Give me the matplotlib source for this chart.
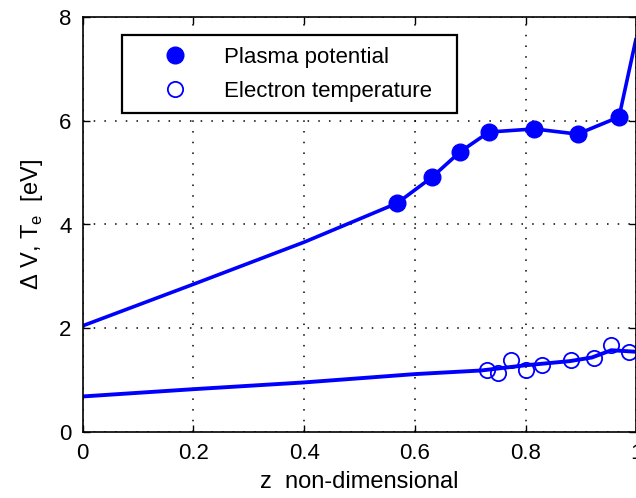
import numpy as np
import matplotlib
matplotlib.use("Agg")
import matplotlib.pyplot as plt

# plasma potential: measured points and the drawn curve
z_pp = [0.568, 0.631, 0.682, 0.734, 0.816, 0.894, 0.969]
v_pp = [4.41, 4.91, 5.40, 5.78, 5.84, 5.74, 6.07]
z_pp_line = [0.0, 0.2, 0.4, 0.568, 0.631, 0.682, 0.734, 0.816, 0.894, 0.969, 1.0]
v_pp_line = [2.05, 2.85, 3.66, 4.41, 4.91, 5.40, 5.78, 5.84, 5.74, 6.07, 7.59]

# electron temperature: measured points and the fitted curve
z_te = [0.731, 0.750, 0.774, 0.801, 0.830, 0.882, 0.923, 0.955, 0.987]
t_te = [1.20, 1.14, 1.39, 1.20, 1.30, 1.39, 1.43, 1.68, 1.55]
z_te_line = [0.0, 0.2, 0.4, 0.6, 0.72, 0.8, 0.88, 0.92, 0.955, 1.0]
t_te_line = [0.69, 0.83, 0.96, 1.12, 1.19, 1.29, 1.37, 1.44, 1.58, 1.55]

xticks = [0, 0.2, 0.4, 0.6, 0.8, 1]
xticklabels = ["0", "0.2", "0.4", "0.6", "0.8", "1"]
yticks = [0, 2, 4, 6, 8]

plt.rcParams['font.family'] = ['Liberation Sans', 'DejaVu Sans']
plt.rcParams['mathtext.fontset'] = 'custom'
plt.rcParams['mathtext.rm'] = 'Liberation Sans'

blue = '#0000ff'

fig = plt.figure(figsize=(6.36, 4.98), dpi=100)
ax = fig.add_axes([82.7 / 636, (498 - 432.3) / 498, 553.5 / 636, 415.6 / 498])

ax.plot(z_pp_line, v_pp_line, color=blue, lw=2.6, solid_capstyle='butt')
ax.plot(z_te_line, t_te_line, color=blue, lw=2.8, solid_capstyle='butt')
ax.plot(z_pp, v_pp, 'o', color=blue, ms=12, mec=blue, mew=1, label='Plasma potential')
ax.plot(z_te, t_te, 'o', color=blue, ms=11, mfc='none', mec=blue, mew=1.3,
        label='Electron temperature')

ax.set_xlim(0, 1)
ax.set_ylim(0, 8)
ax.set_xticks(xticks)
ax.set_xticklabels(xticklabels)
ax.set_yticks(yticks)
ax.grid(True, color='black', linestyle=(0, (1, 6)), linewidth=1.1)
ax.tick_params(direction='in', length=5, width=1, top=True, right=True,
               labelsize=16, colors='black')
ax.tick_params(axis='x', pad=8)
ax.tick_params(axis='y', pad=8)
for s in ax.spines.values():
    s.set_linewidth(1.2)

ax.set_xlabel('z  non-dimensional', fontsize=17, labelpad=5)
ax.set_ylabel(r'Δ V, T$_\mathregular{e}$  [eV]', fontsize=17, labelpad=10)

leg = ax.legend(loc='upper left', bbox_to_anchor=(0.0712, 0.769, 0.605, 0.186),
                mode='expand', borderaxespad=0, fontsize=16, frameon=True,
                fancybox=False, edgecolor='black', borderpad=0.5,
                labelspacing=0.6, handlelength=3.8, handletextpad=0.3,
                numpoints=1)
leg.get_frame().set_linewidth(1.6)
leg.get_frame().set_alpha(None)
leg.get_frame().set_facecolor('white')

fig.savefig('out.png', dpi=100)
